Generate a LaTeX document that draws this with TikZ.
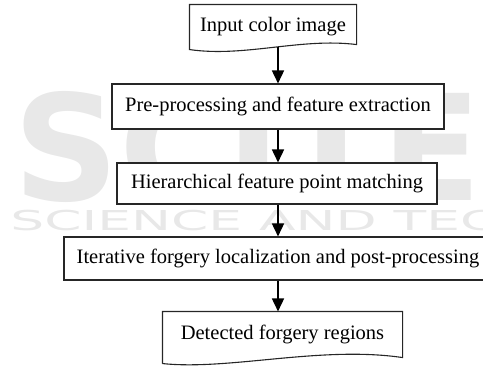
\documentclass[tikz,border=0pt]{standalone}
\usepackage{fontspec}
\setmainfont{Liberation Serif}
\newfontfamily\wmfont{DejaVu Sans}
\usetikzlibrary{arrows.meta}

\begin{document}
\begin{tikzpicture}[x=1pt,y=-1pt,
  stage/.style={draw=black!85, line width=1.1pt, fill=white, inner sep=0pt,
    font=\fontsize{20.5}{24}\selectfont},
  outline/.style={draw=black!85, line width=1.1pt, line join=miter},
  flow/.style={draw=black, line width=1.6pt, -{Triangle[width=12pt,length=13pt]}},
  wmark/.style={text=black!9, inner sep=0pt}
]
\useasboundingbox (0,0) rectangle (483,365);
\clip (0,0) rectangle (483,365);

% faint publisher watermark behind the chart
\node[wmark, anchor=base west, font=\wmfont\bfseries\fontsize{147}{150}\selectfont] (wmlogo) at (13,200) {SCITE};
\node[wmark, anchor=base west, transform shape, xscale=1.95, font=\wmfont\fontsize{27.4}{30}\selectfont] (wmtext) at (10,230) {SCIENCE AND TECHNOLOGY};

% stages
\node[stage, draw=none, fill=none, minimum width=166pt, minimum height=44pt] (b1) at (273,27) {Input color image};
\draw[outline] (b1.south west) -- (b1.north west) -- (b1.north east) -- ([yshift=5pt]b1.south east)
  .. controls +(-56,-7) and +(55,8) .. cycle;

\node[stage, minimum width=332pt, minimum height=45pt] (b2) at (278,106.5) {Pre-processing and feature extraction};
\node[stage, minimum width=320pt, minimum height=41pt] (b3) at (277,183.5) {Hierarchical feature point matching};
\node[stage, minimum width=428pt, minimum height=43pt] (b4) at (278,258.5) {Iterative forgery localization and post-processing};

\node[stage, draw=none, fill=none, minimum width=239pt, minimum height=45pt] (b5) at (282.5,334.5) {Detected forgery regions};
\draw[outline] ([yshift=-6pt]b5.south west) -- (b5.north west) -- (b5.north east) -- (b5.south east)
  .. controls +(-82,-12) and +(67,7) .. ([yshift=-6pt]b5.south west);

% connectors
\coordinate (col) at (278,0);
\draw[flow] ([yshift=2.5pt]b1.south -| col) -- (b2.north -| col);
\draw[flow] (b2.south -| col) -- (b3.north -| col);
\draw[flow] (b3.south -| col) -- (b4.north -| col);
\draw[flow] (b4.south -| col) -- (b5.north -| col);
\end{tikzpicture}
\end{document}
